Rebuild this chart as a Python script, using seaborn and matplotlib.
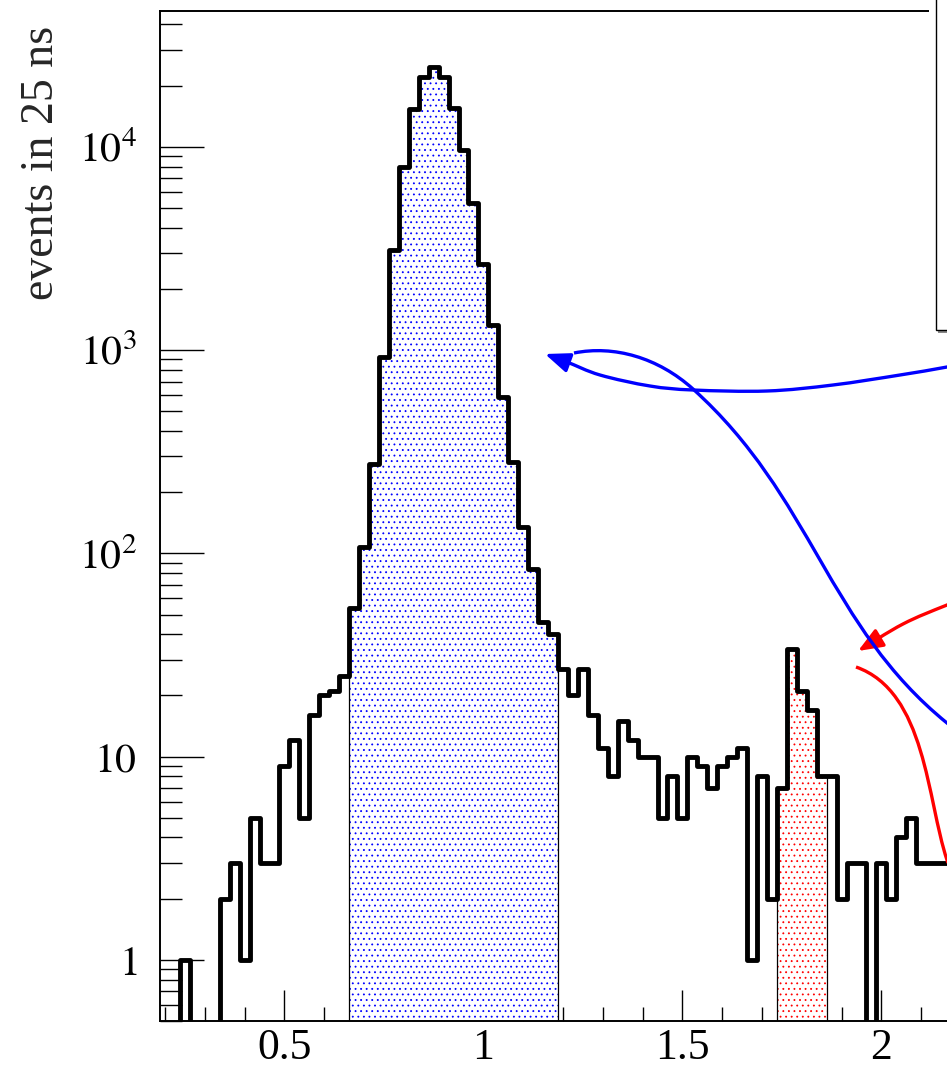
import numpy as np
import pandas as pd
import matplotlib
matplotlib.use('Agg')
import matplotlib.pyplot as plt
from matplotlib.patches import FancyArrowPatch, PathPatch, Rectangle
from matplotlib.path import Path
from matplotlib.ticker import MultipleLocator, LogLocator, FixedLocator, FixedFormatter, NullFormatter
import seaborn as sns

# histogram: 25 ns bins, x in microseconds
first_edge = 0.1875
bin_width = 0.025
counts = [0, 0, 1, 0, 0, 0, 2, 3, 1, 5,
          3, 3, 9, 12, 5, 16, 20, 21, 25, 54,
          107, 275, 920, 3100, 8000, 15400, 22100, 24800, 22100, 15600,
          9600, 5300, 2650, 1330, 590, 282, 134, 84, 46, 40,
          27, 20, 27, 16, 11, 8, 15, 12, 10, 10,
          5, 8, 5, 10, 9, 7, 9, 10, 11, 1,
          8, 2, 7, 34, 21, 17, 8, 8, 2, 3,
          3, 0, 3, 2, 4, 5, 3, 3, 3, 3]

# shaded windows (first bin, last bin + 1)
blue_window = (19, 40)
red_window = (62, 67)

x_ticks = [0.5, 1, 1.5, 2]
x_tick_labels = ['0.5', '1', '1.5', '2']
y_ticks = [1, 10, 100, 1000, 10000]
y_tick_labels = [r'$1$', r'$10$', r'$10^{2}$', r'$10^{3}$', r'$10^{4}$']

counts = np.array(counts, dtype=float)
edges = first_edge + bin_width * np.arange(len(counts) + 1)
df = pd.DataFrame({'time': edges[:-1] + bin_width / 2, 'events': counts})

sns.set_style('ticks')
plt.rcParams['font.family'] = ['Liberation Serif', 'DejaVu Serif']
plt.rcParams['mathtext.fontset'] = 'stix'
plt.rcParams['hatch.linewidth'] = 0.6

W, H = 947, 1070
fig = plt.figure(figsize=(W / 100, H / 100), dpi=100)
ax = fig.add_axes([160 / W, 49 / H, 995 / W, 1010 / H])

# shaded windows with dotted fill
for (a, b), col in [(blue_window, 'blue'), (red_window, 'red')]:
    ax.stairs(counts[a:b], edges[a:b + 1], baseline=0.1, fill=True,
              facecolor='white', edgecolor=col, hatch='...', linewidth=0, zorder=1)
    ax.stairs(counts[a:b], edges[a:b + 1], baseline=0.1, fill=False,
              color='black', linewidth=0.9, zorder=1.2)

# main histogram
sns.histplot(data=df, x='time', weights='events', binwidth=bin_width,
             binrange=(edges[0], edges[-1]), element='step', fill=False,
             color='black', linewidth=3.5, ax=ax, zorder=3)

ax.set_yscale('log')
ax.set_xlim(first_edge, 2.6875)
ax.set_ylim(0.5, 4.66e4)
ax.set_xlabel('')
ax.set_ylabel('')

ax.xaxis.set_major_locator(FixedLocator(x_ticks))
ax.xaxis.set_major_formatter(FixedFormatter(x_tick_labels))
ax.xaxis.set_minor_locator(MultipleLocator(0.1))
ax.yaxis.set_major_locator(FixedLocator(y_ticks))
ax.yaxis.set_major_formatter(FixedFormatter(y_tick_labels))
ax.yaxis.set_minor_locator(LogLocator(base=10, subs=np.arange(2, 10), numticks=30))
ax.yaxis.set_minor_formatter(NullFormatter())

ax.tick_params(which='both', direction='in', top=False, right=False, width=1.0, colors='black')
ax.tick_params(axis='y', which='major', length=31.5, pad=16.5, labelsize=30)
ax.tick_params(axis='y', which='minor', length=15.8)
ax.tick_params(axis='x', which='major', length=22.3, pad=5, labelsize=31.5)
ax.tick_params(axis='x', which='minor', length=10)
for side in ['left', 'bottom', 'top']:
    ax.spines[side].set_linewidth(1.4)
    ax.spines[side].set_color('black')
ax.spines['right'].set_visible(False)

fig.text(42 / W, 1 - 26 / H, 'events in 25 ns', rotation=90, ha='center', va='top', fontsize=33)


def px(x, y):
    return (x / W, 1 - y / H)


def curve(points, codes):
    return Path([px(*p) for p in points], codes)


M, C, L = Path.MOVETO, Path.CURVE4, Path.LINETO


def smooth_path(points):
    p = np.array([px(*q) for q in points])
    p = np.vstack([p[0], p, p[-1]])
    verts = [p[1]]
    codes = [M]
    for i in range(1, len(p) - 2):
        c1 = p[i] + (p[i + 1] - p[i - 1]) / 6
        c2 = p[i + 1] - (p[i + 2] - p[i]) / 6
        verts += [c1, c2, p[i + 1]]
        codes += [C] * 3
    return Path(np.array(verts), codes)


# annotation arrows (pixel positions on the canvas)
blue_arrow = smooth_path([(1000, 357), (947, 367), (900, 375), (833, 385), (767, 391), (693, 390),
                          (650, 386), (600, 375), (567, 362), (545, 354)])
red_arrow = smooth_path([(1000, 585), (947, 605), (903, 624), (858, 651)])
blue_curve = curve([(574, 353), (614, 345), (658, 357.5), (693, 389),
                    (813, 497), (827, 625.6), (947, 723), (990, 758)],
                   [M, C, C, C, C, C, C, L])
red_curve = curve([(856, 667), (926, 691.5), (927, 800), (947, 860), (962, 905)],
                  [M, C, C, C, L])

for path, col in [(blue_arrow, 'blue'), (red_arrow, 'red')]:
    arr = FancyArrowPatch(path=path, arrowstyle='-|>,head_length=15,head_width=6',
                          color=col, linewidth=2.4, mutation_scale=1,
                          transform=fig.transFigure, zorder=6)
    fig.add_artist(arr)
for path, col in [(blue_curve, 'blue'), (red_curve, 'red')]:
    fig.add_artist(PathPatch(path, fill=False, edgecolor=col, linewidth=2.4,
                             transform=fig.transFigure, zorder=6))

# legend box (cut by the canvas edge)
fig.add_artist(Rectangle(px(929, 20), 8 / W, 30 / H, facecolor='white',
                         edgecolor='none', transform=fig.transFigure, zorder=7))
fig.add_artist(Rectangle(px(938, 333), 60 / W, 340 / H, facecolor='#888888',
                         edgecolor='none', transform=fig.transFigure, zorder=7))
fig.add_artist(Rectangle(px(936, 330), 60 / W, 340 / H, facecolor='white',
                         edgecolor='black', linewidth=1.0, transform=fig.transFigure, zorder=8))

fig.savefig('out.png', dpi=100)
